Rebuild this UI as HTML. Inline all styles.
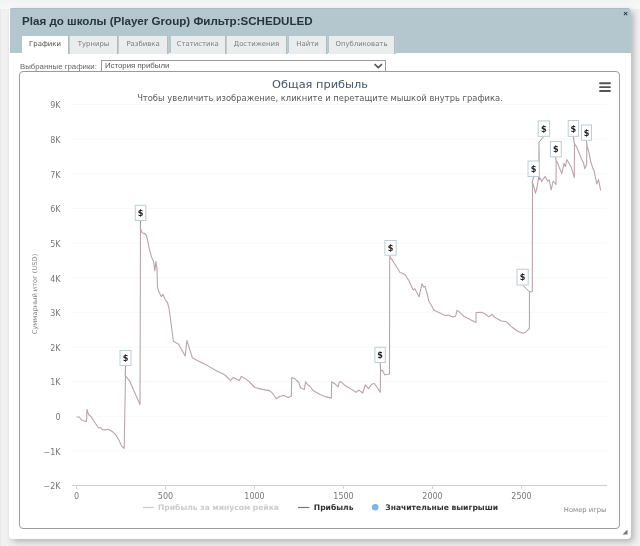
<!DOCTYPE html>
<html><head><meta charset="utf-8">
<style>
html,body{margin:0;padding:0;}
body{width:640px;height:546px;overflow:hidden;position:relative;background:#f1f1f1;font-family:"Liberation Sans",Arial,sans-serif;}
#bgl{position:absolute;left:0;top:0;width:10px;height:546px;background:linear-gradient(to right,#e4e4e4,#f0f0f0 15%,#f2f2f2 80%,#ececec);}
#bgt{position:absolute;left:0;top:0;width:640px;height:9px;background:linear-gradient(to bottom,#f4f3f3,#f7f9f9);}
#dlg{position:absolute;left:9px;top:8px;width:622px;height:531px;background:#fff;border-radius:4px;overflow:hidden;box-shadow:3px 3px 6px rgba(0,0,0,0.24);}
#hdr{position:absolute;left:1px;top:0;width:621px;height:45px;background:#b4c6ce;border-top:1px solid #a9bcc4;box-sizing:border-box;}
#ttl{position:absolute;left:12px;top:4.8px;font-weight:bold;font-size:11.6px;color:#27353d;white-space:nowrap;}
#cls{position:absolute;left:613.3px;top:-0.3px;font-size:8px;font-weight:bold;color:#1e2e38;line-height:9px;}
.tab{position:absolute;top:27px;height:18px;background:#eaedee;font-family:"DejaVu Sans",sans-serif;font-size:6.9px;color:#7a7a7a;text-align:center;line-height:16.5px;white-space:nowrap;box-shadow:1px 0 0 #b0bcc0,2px 0 0 #c2cacd;}
.tab.act{background:#fff;color:#4a4a4a;}
#lbl{position:absolute;left:11px;top:54px;font-size:7.8px;color:#666;white-space:nowrap;}
#sel{position:absolute;left:92px;top:52px;width:280px;height:10px;border:1px solid #9a9a9a;border-bottom:1px solid #888;font-size:7.8px;color:#555;line-height:10px;padding-left:3px;box-sizing:content-box;}
#box{position:absolute;left:10px;top:63px;width:599px;height:456px;border:1px solid #9a9a9a;border-radius:4px;}
svg{position:absolute;left:0;top:0;}
</style></head><body>
<div id="bgl"></div><div id="bgt"></div>
<div id="dlg">
 <div id="hdr">
  <div id="ttl">Plaя до школы (Player Group) Фильтр:SCHEDULED</div>
  <div id="cls">×</div>
  <div class="tab act" style="left:12px;width:46px">Графики</div>
  <div class="tab" style="left:60px;width:47px">Турниры</div>
  <div class="tab" style="left:109px;width:48px">Разбивка</div>
  <div class="tab" style="left:160.5px;width:54.5px">Статистика</div>
  <div class="tab" style="left:217px;width:59px">Достижения</div>
  <div class="tab" style="left:279px;width:37px">Найти</div>
  <div class="tab" style="left:319px;width:65px">Опубликовать</div>
 </div>
 <div id="lbl">Выбранные графики:</div>
 <div id="sel">История прибыли</div>
 <div id="box"></div>
</div>
<svg width="640" height="546" viewBox="0 0 640 546" font-family="DejaVu Sans, Liberation Sans, sans-serif">
 <g stroke="#f8f8f8" stroke-width="1">
  <line x1="72" x2="607" y1="104.5" y2="104.5"/>
  <line x1="72" x2="607" y1="139.1" y2="139.1"/>
  <line x1="72" x2="607" y1="173.8" y2="173.8"/>
  <line x1="72" x2="607" y1="208.4" y2="208.4"/>
  <line x1="72" x2="607" y1="243" y2="243"/>
  <line x1="72" x2="607" y1="277.7" y2="277.7"/>
  <line x1="72" x2="607" y1="312.3" y2="312.3"/>
  <line x1="72" x2="607" y1="347" y2="347"/>
  <line x1="72" x2="607" y1="381.6" y2="381.6"/>
  <line x1="72" x2="607" y1="416.2" y2="416.2"/>
  <line x1="72" x2="607" y1="450.9" y2="450.9"/>
 </g>
 <line x1="72" x2="607" y1="485.5" y2="485.5" stroke="#cfcfcf" stroke-width="1"/>
 <g stroke="#d8d8d8" stroke-width="1">
  <line x1="76.5" x2="76.5" y1="485" y2="489"/>
  <line x1="165.5" x2="165.5" y1="485" y2="489"/>
  <line x1="254.5" x2="254.5" y1="485" y2="489"/>
  <line x1="343.5" x2="343.5" y1="485" y2="489"/>
  <line x1="432.5" x2="432.5" y1="485" y2="489"/>
  <line x1="521.5" x2="521.5" y1="485" y2="489"/>
 </g>
 <path d="M374.6,64.2L378.3,67.6L382,64.2" fill="none" stroke="#555" stroke-width="1.6"/>
 <path d="M622.5,534.5L627.5,529.5L627.5,534.5Z" fill="#777"/>
 <text x="320" y="88" text-anchor="middle" font-size="11.35" fill="#44566a">Общая прибыль</text>
 <text x="320" y="100.9" text-anchor="middle" font-size="8.39" fill="#5a5a5a">Чтобы увеличить изображение, кликните и перетащите мышкой внутрь графика.</text>
 <g stroke="#555" stroke-width="1.9" stroke-linecap="round"><line x1="600" x2="610" y1="83.2" y2="83.2"/><line x1="600" x2="610" y1="87.1" y2="87.1"/><line x1="600" x2="610" y1="91" y2="91"/></g>
 <g font-size="8" fill="#777" text-anchor="end">
  <text x="60.5" y="108.3">9K</text><text x="60.5" y="142.9">8K</text><text x="60.5" y="177.6">7K</text><text x="60.5" y="212.2">6K</text><text x="60.5" y="246.8">5K</text><text x="60.5" y="281.5">4K</text><text x="60.5" y="316.1">3K</text><text x="60.5" y="350.8">2K</text><text x="60.5" y="385.4">1K</text><text x="60.5" y="420.0">0</text><text x="60.5" y="454.7">−1K</text><text x="60.5" y="489.3">−2K</text>
 </g>
 <g font-size="8" fill="#777" text-anchor="middle">
  <text x="76.5" y="498.5">0</text><text x="165.5" y="498.5">500</text><text x="254.5" y="498.5">1000</text><text x="343.5" y="498.5">1500</text><text x="432.5" y="498.5">2000</text><text x="521.5" y="498.5">2500</text>
 </g>
 <text x="606.5" y="512" text-anchor="end" font-size="6.8" fill="#888">Номер игры</text>
 <text transform="translate(37.4,294) rotate(-90)" text-anchor="middle" font-size="6.7" fill="#888">Суммарный итог (USD)</text>
 <polyline fill="none" stroke="#b9a4aa" stroke-width="1.1" stroke-linejoin="round" points="76.6,417 79.3,417 81.5,420 83.7,420.8 86.5,421.4 87,409.3 88.7,414.8 90.9,416.4 93.6,420.8 96.4,424.7 98.6,428 100.2,427.4 102.4,429.6 105.2,429.9 107.9,429.3 111.2,430.7 114,432.9 116.7,436.2 119.5,441.2 121.6,446.1 124.2,448.3 125.5,376 126,376.5 129,380.1 130,381.8 140,404.6 140.5,228.1 141.9,232.8 145,233.6 146.6,235.9 148.9,246.8 151.2,256.2 153.6,261.6 154.8,271 155.9,261.6 157,268.6 157.5,287.3 159,292 161.4,296.7 162.9,294.3 165.3,299.8 167.6,302.9 169.2,309.1 170.5,319.3 173.4,341.3 178.6,344.2 185.2,355.9 186.9,340.5 192.5,358.1 199.8,361.8 207.5,365.6 215,370 225,375 230.6,380.6 233.1,377.5 239.4,380.6 241.3,376.3 246.3,379.4 250,382.5 255,387.5 262.5,389.4 269.4,390.6 272.5,393.1 276.3,398.8 280,396.3 283.8,395.6 288.1,397.5 291.3,396.3 291.7,377.5 295,378.8 298.8,382.5 300.6,388.1 304.4,389.4 305.6,381.9 308.1,385 310,386.3 313.1,390.6 320,394.4 326.3,396.9 331.3,398.1 331.7,381.9 335,383.8 338.1,386.9 339.4,381.9 341.3,381.9 345,385.6 350.3,388.6 356.1,392.3 359,390.1 362.7,393 365.2,385 368.6,388.6 371.5,384.2 374.4,383.5 380.3,392.3 380.5,371 382.5,370.3 384.7,374.7 389.5,374 389.7,257 391.2,258.6 395.6,265.2 400,272.5 402.2,273.2 405.2,274.7 408.8,280.5 413.2,290.1 414.7,288.6 419.1,296.7 421.9,283.8 423.8,286.9 425,286.3 427.5,295 428.8,301.3 431.3,305 433.8,310 438.8,312.5 445,315.6 448.8,315 452.5,316.9 455.6,316.3 456.9,310.6 458.8,311.3 460.6,313.1 463.8,316.3 470,319.4 475.9,322.5 476.1,312.5 481.3,312.3 485,313.8 488.8,316.9 491.9,314.4 495,317.5 501.5,321 506.5,321.8 510.6,325.9 514.7,329.2 518.8,331.7 523,333.3 526.3,331.7 529.4,328.4 529.5,292 532.3,291.5 532.5,183 533,183.7 535.5,193.1 537.2,186.5 538.8,176.6 539,142.5 539.4,179.6 540.5,178.2 541.6,181.6 543.1,179.2 545.3,176.4 547.6,181.2 549.3,179.8 551.2,190 553.1,181 556,184.5 556.2,161.4 557.5,162.5 559.7,168.6 561.9,173.5 564,163.4 565.5,166.4 566.8,159.5 569,163.3 571.2,167 574.3,177.6 574.5,143.8 576.5,146.6 579.2,153.2 581.4,158.7 583.6,163.1 584.7,168.6 586.6,164.7 586.8,144.9 589.1,153.2 590.8,162 593,168.6 594.1,170.8 596.8,184 598.5,179.6 600.7,190.5"/>
<g font-size="9" font-weight="bold" fill="#222" font-family="DejaVu Sans Condensed, DejaVu Sans, sans-serif">
<path d="M125.5,365.5L125.2,376" stroke="#999" stroke-width="1" fill="none"/>
<rect x="120" y="350.5" width="11.0" height="15.0" fill="#fff" stroke="#bccdd6" stroke-width="1"/>
<text x="125.5" y="361.2" text-anchor="middle">$</text>
<path d="M140.6,220.5L140.3,228" stroke="#999" stroke-width="1" fill="none"/>
<rect x="135.3" y="205.3" width="10.5" height="15.2" fill="#fff" stroke="#bccdd6" stroke-width="1"/>
<text x="140.6" y="216.1" text-anchor="middle">$</text>
<path d="M380.1,362.5L380.7,371" stroke="#999" stroke-width="1" fill="none"/>
<rect x="374.9" y="347.3" width="10.4" height="15.2" fill="#fff" stroke="#bccdd6" stroke-width="1"/>
<text x="380.1" y="358.1" text-anchor="middle">$</text>
<path d="M390.5,255.2L389.8,257" stroke="#999" stroke-width="1" fill="none"/>
<rect x="384.9" y="240.5" width="11.3" height="14.7" fill="#fff" stroke="#bccdd6" stroke-width="1"/>
<text x="390.5" y="251.0" text-anchor="middle">$</text>
<path d="M522.6,285.0L529.6,292" stroke="#999" stroke-width="1" fill="none"/>
<rect x="517" y="269.3" width="11.2" height="15.7" fill="#fff" stroke="#bccdd6" stroke-width="1"/>
<text x="522.6" y="280.3" text-anchor="middle">$</text>
<path d="M533.6,176.5L532.2,183" stroke="#999" stroke-width="1" fill="none"/>
<rect x="528" y="161" width="11.3" height="15.5" fill="#fff" stroke="#bccdd6" stroke-width="1"/>
<text x="533.6" y="171.9" text-anchor="middle">$</text>
<path d="M543.9,136.3L538.8,142.5" stroke="#999" stroke-width="1" fill="none"/>
<rect x="538.2" y="120.9" width="11.4" height="15.4" fill="#fff" stroke="#bccdd6" stroke-width="1"/>
<text x="543.9" y="131.8" text-anchor="middle">$</text>
<path d="M555.8,156.8L556.1,161.4" stroke="#999" stroke-width="1" fill="none"/>
<rect x="550.4" y="141.5" width="10.9" height="15.3" fill="#fff" stroke="#bccdd6" stroke-width="1"/>
<text x="555.8" y="152.3" text-anchor="middle">$</text>
<path d="M573.4,136.3L574.3,143.8" stroke="#999" stroke-width="1" fill="none"/>
<rect x="568.2" y="120.5" width="10.4" height="15.8" fill="#fff" stroke="#bccdd6" stroke-width="1"/>
<text x="573.4" y="131.6" text-anchor="middle">$</text>
<path d="M586.5,140.3L586.9,144.9" stroke="#999" stroke-width="1" fill="none"/>
<rect x="581.5" y="125" width="10.0" height="15.3" fill="#fff" stroke="#bccdd6" stroke-width="1"/>
<text x="586.5" y="135.8" text-anchor="middle">$</text>
</g>
 <g font-size="7.6" font-weight="bold">
  <line x1="143" x2="153.8" y1="507.5" y2="507.5" stroke="#ccc" stroke-width="1.2"/>
  <text x="158" y="510.3" fill="#ccc">Прибыль за минусом рейка</text>
  <line x1="298" x2="309.4" y1="507.5" y2="507.5" stroke="#777" stroke-width="1.2"/>
  <text x="313.8" y="510.3" fill="#333">Прибыль</text>
  <circle cx="375.2" cy="507.2" r="3.3" fill="#7cb5ec"/>
  <text x="385.3" y="510.3" fill="#333">Значительные выигрыши</text>
 </g>
</svg>
</body></html>
